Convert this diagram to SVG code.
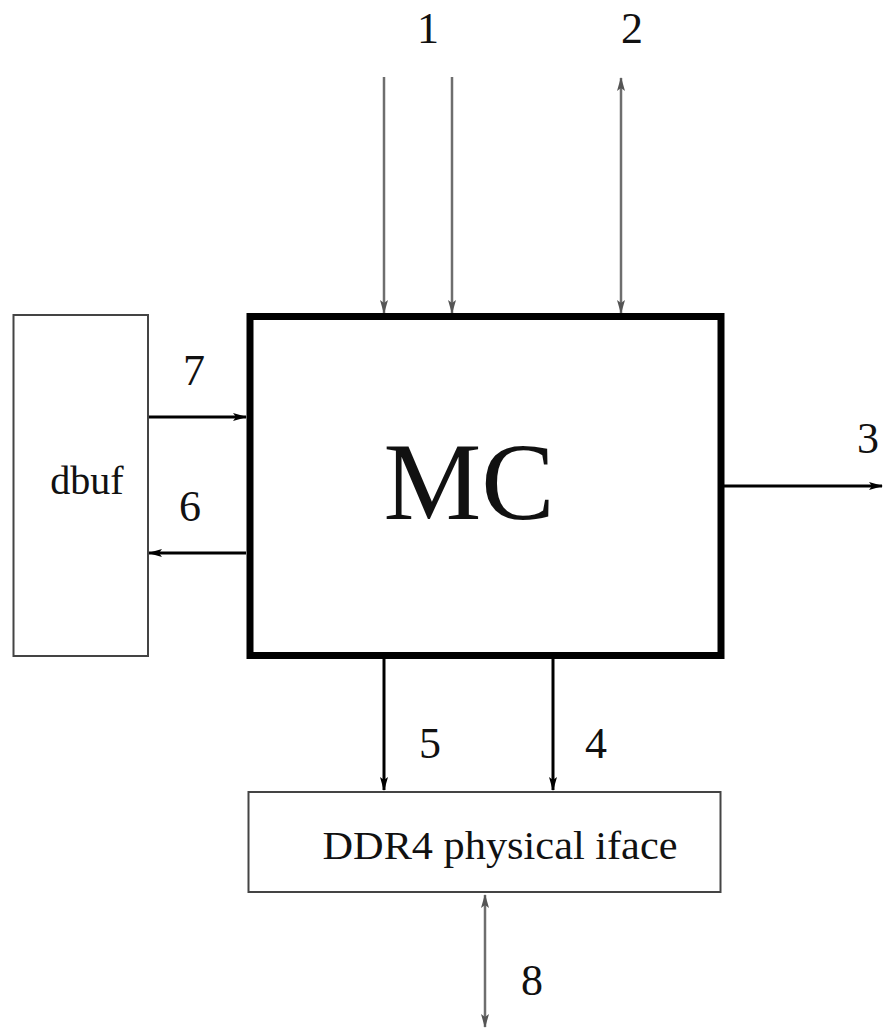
<svg xmlns="http://www.w3.org/2000/svg" width="883" height="1030" viewBox="0 0 883 1030">
<style>
.box{fill:#fff;stroke:#444;stroke-width:2}
.mc{fill:#fff;stroke:#000;stroke-width:7}
.g{stroke:#6e6e6e;stroke-width:2.5;fill:none}
.k{stroke:#000;stroke-width:3;fill:none}
text{font-family:"Liberation Serif","Times New Roman",serif;fill:#111;text-anchor:middle}
.num{font-size:44px}
</style>
<defs>
<marker id="ag" viewBox="0 0 14 10" refX="13" refY="5" markerWidth="14" markerHeight="10" markerUnits="userSpaceOnUse" orient="auto-start-reverse">
<path d="M0,1 L14,5 L0,9 L3,5 Z" fill="#555"/>
</marker>
<marker id="ak" viewBox="0 0 14 10" refX="13" refY="5" markerWidth="14" markerHeight="10" markerUnits="userSpaceOnUse" orient="auto-start-reverse">
<path d="M0,1 L14,5 L0,9 L3,5 Z" fill="#000"/>
</marker>
</defs>
<g id="connectors">
<line class="g" x1="384" y1="77" x2="384" y2="313" marker-end="url(#ag)"/>
<line class="g" x1="452" y1="77" x2="452" y2="313" marker-end="url(#ag)"/>
<line class="g" x1="621" y1="78" x2="621" y2="313" marker-start="url(#ag)" marker-end="url(#ag)"/>
<line class="k" x1="149" y1="417" x2="246" y2="417" marker-end="url(#ak)"/>
<line class="k" x1="246" y1="553" x2="149" y2="553" marker-end="url(#ak)"/>
<line class="k" x1="724" y1="486" x2="882" y2="486" marker-end="url(#ak)"/>
<line class="k" x1="384" y1="659" x2="384" y2="790" marker-end="url(#ak)"/>
<line class="k" x1="553" y1="659" x2="553" y2="790" marker-end="url(#ak)"/>
<line class="g" x1="485" y1="895" x2="485" y2="1027" marker-start="url(#ag)" marker-end="url(#ag)"/>
</g>
<g id="node-dbuf">
<rect class="box" x="13.5" y="315" width="134.5" height="341"/>
<text x="87" y="494" font-size="40">dbuf</text>
</g>
<g id="node-mc">
<rect class="mc" x="250" y="316.5" width="471" height="339"/>
<text x="469" y="519" font-size="110">MC</text>
</g>
<g id="node-ddr4">
<rect class="box" x="248.5" y="792" width="472" height="100"/>
<text x="500" y="859" font-size="39" textLength="355" lengthAdjust="spacingAndGlyphs">DDR4 physical iface</text>
</g>
<g id="labels">
<text class="num" x="428" y="43">1</text>
<text class="num" x="632" y="43">2</text>
<text class="num" x="868" y="453">3</text>
<text class="num" x="194" y="385">7</text>
<text class="num" x="190" y="521">6</text>
<text class="num" x="430" y="758">5</text>
<text class="num" x="596" y="758">4</text>
<text class="num" x="532" y="995">8</text>
</g>
</svg>
